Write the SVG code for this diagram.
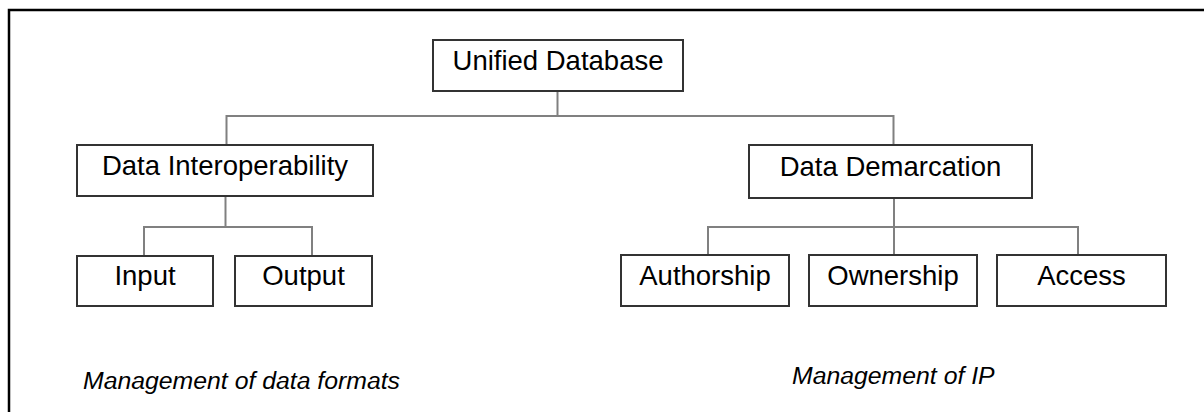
<svg xmlns="http://www.w3.org/2000/svg" width="1204" height="412" viewBox="0 0 1204 412">
  <style>
    .box { fill: #ffffff; stroke: #333333; stroke-width: 2; }
    .label { font-family: "Liberation Sans", Arial, sans-serif; font-size: 27.5px; fill: #000000; text-anchor: middle; }
    .note { font-family: "Liberation Sans", Arial, sans-serif; font-size: 24.8px; font-style: italic; fill: #000000; }
    .link { fill: none; stroke: #808080; stroke-width: 2; }
  </style>
  <rect width="1204" height="412" fill="#ffffff"/>
  <!-- page frame: top and left edges -->
  <path d="M9,412 V10 H1204" fill="none" stroke="#000000" stroke-width="2.5"/>

  <g id="connectors">
    <path class="link" d="M557.5,91 V116"/>
    <path class="link" d="M226.5,145 V116 H893.5 V145"/>
    <path class="link" d="M225.5,196 V227"/>
    <path class="link" d="M144,256 V227 H312 V256"/>
    <path class="link" d="M894,198 V255"/>
    <path class="link" d="M708,255 V227 H1078 V255"/>
  </g>

  <g id="unified-database">
    <rect class="box" x="433" y="40" width="250" height="51"/>
    <text class="label" x="558" y="70">Unified Database</text>
  </g>
  <g id="data-interoperability">
    <rect class="box" x="77" y="145" width="296" height="51"/>
    <text class="label" x="225" y="175">Data Interoperability</text>
  </g>
  <g id="data-demarcation">
    <rect class="box" x="749" y="145" width="283" height="53"/>
    <text class="label" x="890.5" y="176">Data Demarcation</text>
  </g>
  <g id="input">
    <rect class="box" x="77" y="256" width="136" height="50"/>
    <text class="label" x="145" y="285">Input</text>
  </g>
  <g id="output">
    <rect class="box" x="235" y="256" width="137" height="50"/>
    <text class="label" x="303.5" y="285">Output</text>
  </g>
  <g id="authorship">
    <rect class="box" x="621" y="255" width="168" height="51"/>
    <text class="label" x="705" y="285">Authorship</text>
  </g>
  <g id="ownership">
    <rect class="box" x="809" y="255" width="168" height="51"/>
    <text class="label" x="893" y="285">Ownership</text>
  </g>
  <g id="access">
    <rect class="box" x="997" y="255" width="169" height="51"/>
    <text class="label" x="1081.5" y="285">Access</text>
  </g>

  <g id="notes">
    <text class="note" x="83" y="389">Management of data formats</text>
    <text class="note" x="792" y="384">Management of IP</text>
  </g>
</svg>
